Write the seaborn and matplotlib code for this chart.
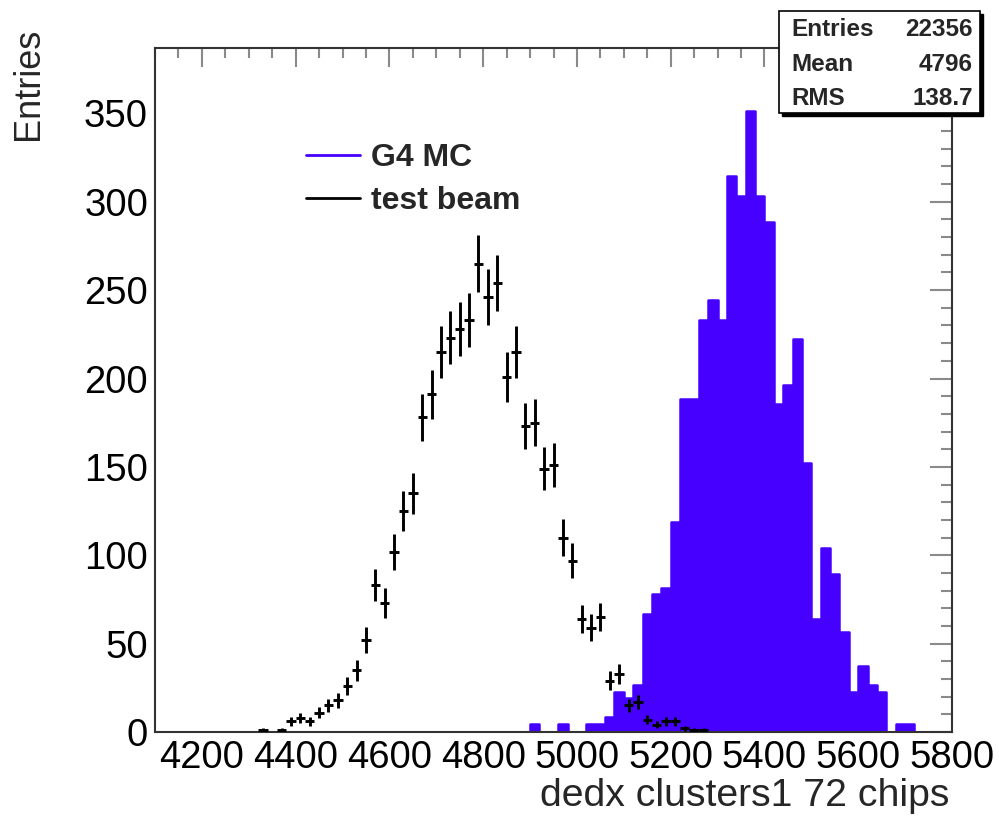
import numpy as np
import pandas as pd
import matplotlib
matplotlib.use("Agg")
import matplotlib.pyplot as plt
import seaborn as sns
from matplotlib.lines import Line2D
from matplotlib.patches import Rectangle
from matplotlib.ticker import MultipleLocator

# ---------------- data ----------------
bin_lo, bin_hi, bin_w = 4100, 5800, 20

mc_centers = [4910, 4970, 5030, 5050, 5070, 5090, 5110, 5130, 5150, 5170,
              5190, 5210, 5230, 5250, 5270, 5290, 5310, 5330, 5350, 5370,
              5390, 5410, 5430, 5450, 5470, 5490, 5510, 5530, 5550, 5570,
              5590, 5610, 5630, 5650, 5690, 5710]
mc_values = [4.4, 4.4, 4.4, 4.4, 8.3, 22.4, 19.4, 26.5, 67.0, 78.0,
             81.6, 118.6, 188.5, 188.5, 233.2, 244.2, 233.2, 314.3, 303.3, 351.2,
             303.3, 288.5, 185.3, 196.3, 222.3, 152.3, 63.7, 104.2, 89.4, 56.4,
             22.4, 37.5, 26.6, 22.4, 4.5, 4.5]

tb_centers = [4330, 4370, 4390, 4410, 4430, 4450, 4470, 4490, 4510, 4530,
              4550, 4570, 4590, 4610, 4630, 4650, 4670, 4690, 4710, 4730,
              4750, 4770, 4790, 4810, 4830, 4850, 4870, 4890, 4910, 4930,
              4950, 4970, 4990, 5010, 5030, 5050, 5070, 5090, 5110, 5130,
              5150, 5170, 5190, 5210, 5230, 5250, 5270]
tb_counts = [1, 1, 6, 8, 6, 11, 15, 18, 26, 35,
             52, 83, 73, 102, 125, 135, 178, 191, 215, 223,
             228, 233, 265, 246, 254, 201, 215, 173, 175, 149,
             151, 110, 97, 64, 59, 65, 29, 33, 15, 17,
             7, 4, 6, 6, 2, 1, 1]

legend_labels = ["G4 MC", "test beam"]
stats_names = ["Entries", "Mean", "RMS"]
stats_values = ["22356", "4796", "138.7"]
x_label = "dedx clusters1 72 chips"
y_label = "Entries"

# ---------------- style ----------------
sns.set_theme(style="white")
plt.rcParams['font.family'] = ['Liberation Sans', 'DejaVu Sans']

BLUE = "#4600ff"
W, H = 999, 816
fig = plt.figure(figsize=(W / 100, H / 100), dpi=100)
ax = fig.add_axes([155 / W, (H - 732) / H, (952 - 155) / W, (732 - 48) / H])

mc = pd.DataFrame({"dedx": mc_centers, "w": mc_values})
sns.histplot(data=mc, x="dedx", weights="w", binwidth=bin_w,
             binrange=(bin_lo, bin_hi), element="step",
             fill=True, color=BLUE, alpha=1.0, linewidth=1.8,
             edgecolor=BLUE, ax=ax)

tb = pd.DataFrame({"dedx": tb_centers, "n": tb_counts})
ax.errorbar(tb["dedx"], tb["n"], yerr=np.sqrt(tb["n"]), xerr=bin_w / 2,
            fmt="none", ecolor="black", elinewidth=2.1, capsize=0, zorder=5)

ax.set_xlim(bin_lo, bin_hi)
ax.set_ylim(0, 387)

ax.xaxis.set_major_locator(MultipleLocator(200))
ax.xaxis.set_minor_locator(MultipleLocator(50))
ax.yaxis.set_major_locator(MultipleLocator(50))
ax.yaxis.set_minor_locator(MultipleLocator(10))

ax.tick_params(axis="both", which="both", direction="in", top=True, right=True,
               color="#8a8a8a", width=1.5, labelcolor="black")
ax.tick_params(axis="x", which="major", length=13.7, labelsize=27.5, pad=6)
ax.tick_params(axis="x", which="minor", length=7.2)
ax.tick_params(axis="y", which="major", length=15.8, labelsize=27.5, pad=5)
ax.tick_params(axis="y", which="minor", length=7.9)
ax.tick_params(axis="x", which="both", labeltop=False)
ax.tick_params(axis="y", which="both", labelright=False)

for s in ax.spines.values():
    s.set_color("#333333")
    s.set_linewidth(1.5)

ax.set_xlabel(x_label, fontsize=28.3, loc="right")
ax.xaxis.set_label_coords((949 - 155) / 797, (732 - 778) / 684)
ax.set_ylabel(y_label, fontsize=26, loc="top")
ax.yaxis.set_label_coords((46 - 155) / 797, (732 - 28) / 684)

handles = [Line2D([], [], color=BLUE, lw=2),
           Line2D([], [], color="black", lw=2)]
leg = ax.legend(handles, legend_labels, loc="center left",
                bbox_to_anchor=((306 - 155) / 797, (732 - 179.5) / 684),
                frameon=False, borderpad=0, borderaxespad=0,
                handlelength=1.68, handletextpad=0.36, labelspacing=0.42,
                prop={"family": "Liberation Sans", "weight": "bold", "size": 23})

# stats box (figure pixel layout converted to fractions)
bx0, bx1, by0, by1 = 779, 980, 11, 113
shadow = Rectangle(((bx0 + 3) / W, (H - by1 - 3) / H), (bx1 - bx0) / W, (by1 - by0) / H,
                   transform=fig.transFigure, facecolor="black", edgecolor="black",
                   lw=1, zorder=10)
box = Rectangle((bx0 / W, (H - by1) / H), (bx1 - bx0) / W, (by1 - by0) / H,
                transform=fig.transFigure, facecolor="white", edgecolor="black",
                lw=1.2, zorder=11)
fig.patches.extend([shadow, box])
for i, (nm, val) in enumerate(zip(stats_names, stats_values)):
    yc = 30 + i * 34.3
    fig.text(791 / W, (H - yc) / H, nm, ha="left", va="center", fontsize=17.5,
             fontweight="bold", zorder=12)
    fig.text(973 / W, (H - yc) / H, val, ha="right", va="center", fontsize=17.5,
             fontweight="bold", zorder=12)

fig.savefig("out.png", dpi=100)
